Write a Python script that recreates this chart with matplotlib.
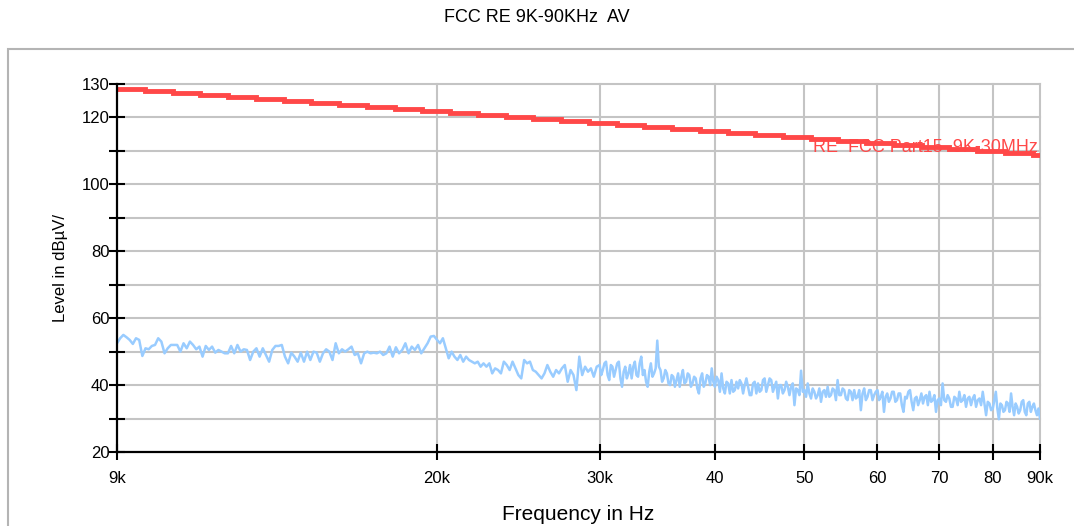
import matplotlib.pyplot as plt
import numpy as np
from matplotlib.patches import Rectangle

plt.rcParams['font.family'] = ['Liberation Sans', 'DejaVu Sans']

# limit line: FCC Part15 9K-30MHz, stepped (kHz edges, dBuV levels)
limit_edges = [9.0, 9.65, 10.34, 11.08, 11.88, 12.73, 13.64, 14.62, 15.67, 16.79,
               17.99, 19.28, 20.66, 22.14, 23.73, 25.43, 27.25, 29.20, 31.30, 33.54,
               35.94, 38.52, 41.28, 44.24, 47.41, 50.80, 54.44, 58.34, 62.53, 67.01,
               71.81, 76.96, 82.47, 88.38, 90.0]
limit_levels = [128.5, 127.9, 127.3, 126.7, 126.1, 125.5, 124.9, 124.3, 123.7, 123.1,
                122.5, 121.9, 121.3, 120.7, 120.1, 119.5, 118.9, 118.3, 117.7, 117.1,
                116.5, 115.9, 115.3, 114.7, 114.1, 113.5, 112.9, 112.3, 111.7, 111.1,
                110.5, 109.9, 109.3, 108.7]

# measured AV trace, read per frequency band (kHz band edges)
av_9k_20k = [52.5, 54.0, 55.0, 54.3, 53.5, 52.3, 54.0, 53.5, 48.7, 51.0,
             50.7, 51.7, 52.0, 54.0, 53.0, 49.5, 51.0, 52.0, 52.0, 52.0,
             50.0, 52.5, 51.0, 53.0, 52.0, 50.7, 51.5, 48.5, 51.7, 50.5,
             51.5, 49.7, 50.5, 50.0, 49.5, 49.5, 51.7, 49.5, 52.0, 50.0,
             50.7, 50.5, 47.5, 50.0, 51.0, 48.5, 51.0, 49.0, 47.0, 50.5,
             51.7, 51.7, 52.0, 48.5, 46.5, 49.7, 48.5, 47.0, 49.7, 47.0,
             50.0, 47.5, 50.0, 49.7, 47.0, 49.5, 50.7, 50.0, 47.5, 52.5,
             49.5, 50.7, 50.0, 50.7, 51.5, 49.0, 49.5, 46.5, 49.5, 50.0,
             49.5, 49.7, 49.5, 50.0, 49.0, 49.5, 51.5, 48.5, 51.3, 49.5,
             50.5, 52.5, 49.5, 51.5, 50.5, 52.0, 49.5, 51.0, 52.5, 54.5,
             54.7]
av_20k_30k = [53.5, 52.5, 54.0, 51.0, 48.0, 50.0, 48.5, 47.5, 49.0, 47.0,
              48.5, 47.5, 47.0, 46.5, 47.0, 45.5, 46.5, 45.5, 46.5, 43.5,
              45.0, 44.5, 43.5, 47.0, 46.0, 44.5, 47.0, 45.0, 43.0, 42.0,
              47.5, 46.5, 47.0, 44.5, 44.0, 43.0, 42.0, 43.5, 46.0, 44.0,
              42.5, 44.5, 43.5, 45.0, 46.0, 41.0, 44.5, 43.0, 38.5, 48.5,
              43.0, 45.5, 44.0, 45.0, 42.5, 45.5]
av_30k_40k = [46.0, 43.0, 44.5, 46.5, 47.0, 43.0, 41.5, 46.0, 45.5, 42.5,
              44.5, 46.5, 47.0, 42.0, 39.5, 44.0, 45.5, 42.0, 43.5, 46.0,
              42.0, 45.5, 47.0, 43.0, 42.5, 46.5, 48.5, 43.0, 44.5, 41.0,
              39.5, 44.0, 46.5, 42.5, 43.5, 45.0, 53.3, 45.5, 44.5, 41.0,
              42.0, 44.5, 43.5, 40.5, 40.0, 43.0, 42.5, 39.5, 41.5, 43.5,
              39.5, 42.5, 44.5, 40.5, 41.0, 43.5, 43.0, 39.5, 40.5, 42.5,
              42.0, 39.0, 37.5, 42.0, 43.5, 39.5, 40.5, 43.0, 42.5, 40.0,
              45.0, 41.0]
av_40k_50k = [39.5, 42.5, 41.5, 38.0, 43.5, 39.0, 37.5, 41.0, 40.5, 37.5,
              41.5, 38.0, 38.5, 41.0, 39.0, 41.5, 40.5, 37.5, 40.0, 42.0,
              39.5, 37.0, 37.0, 40.5, 41.0, 37.5, 40.5, 38.0, 38.5, 41.5,
              42.0, 38.0, 40.0, 42.0, 41.5, 38.0, 39.5, 41.0, 36.0, 40.0,
              40.0, 37.5, 38.5, 41.0, 39.5, 37.0, 39.5, 40.5, 34.0, 39.0,
              38.5, 37.0, 44.3, 38.0]
av_50k_60k = [38.5, 36.5, 40.5, 37.5, 36.0, 39.0, 38.0, 36.0, 37.0, 39.0,
              35.0, 38.0, 38.5, 36.5, 39.5, 36.5, 37.0, 39.0, 38.5, 35.5,
              41.5, 37.0, 37.0, 39.0, 38.5, 36.0, 35.5, 38.5, 38.0, 35.5,
              38.5, 36.0, 36.5, 38.5, 32.5, 37.5, 39.0, 35.5, 36.5, 38.5,
              38.5, 35.5, 37.0, 38.0]
av_60k_70k = [38.5, 35.5, 36.5, 38.0, 32.0, 36.5, 37.5, 35.0, 36.0, 38.0,
              38.0, 35.0, 35.5, 37.5, 37.5, 34.0, 32.0, 36.5, 36.0, 38.0,
              38.5, 35.0, 32.5, 36.0, 36.5, 34.0, 35.5, 37.5, 34.5, 36.5,
              37.0, 34.0, 38.0, 35.0, 35.5, 37.0, 32.0, 35.5]
av_70k_80k = [36.0, 34.0, 40.5, 35.5, 35.0, 37.0, 36.0, 33.5, 33.5, 36.5,
              36.0, 34.0, 38.0, 35.0, 35.5, 37.0, 33.5, 36.0, 36.5, 34.0,
              36.0, 37.0, 33.5, 35.5, 36.0, 34.0, 38.0, 34.5, 31.0, 35.0,
              34.5, 32.5]
av_80k_90k = [33.0, 35.5, 38.0, 33.0, 29.8, 34.5, 34.0, 32.0, 32.5, 35.0,
              34.5, 32.0, 37.5, 33.5, 31.0, 34.5, 33.5, 31.5, 32.5, 35.0,
              35.5, 32.0, 31.0, 34.5, 35.0, 32.0, 33.5, 34.5, 32.5, 31.0,
              33.0, 30.0]
av_bands = [(9, 20, av_9k_20k), (20, 30, av_20k_30k), (30, 40, av_30k_40k),
            (40, 50, av_40k_50k), (50, 60, av_50k_60k), (60, 70, av_60k_70k),
            (70, 80, av_70k_80k), (80, 90, av_80k_90k)]

xticks = [9, 20, 30, 40, 50, 60, 70, 80, 90]
xticklabels = ["9k", "20k", "30k", "40", "50", "60", "70", "80", "90k"]
yticks = [20, 30, 40, 50, 60, 70, 80, 90, 100, 110, 120, 130]
yticklabels = ["20", "", "40", "", "60", "", "80", "", "100", "", "120", "130"]

av_freq = []
av_level = []
for i, (f0, f1, vals) in enumerate(av_bands):
    last = i == len(av_bands) - 1
    f = np.geomspace(f0, f1, len(vals) if last else len(vals) + 1)
    if not last:
        f = f[:-1]
    av_freq.extend(f * 1000)
    av_level.extend(vals)

fig = plt.figure(figsize=(10.74, 5.26), dpi=100)
ax = fig.add_axes([117 / 1074, 1 - 452 / 526, 923 / 1074, 368 / 526])

# outer frame
fig.patches.append(Rectangle((8 / 1074, -0.1), 1.2, 1 - 49 / 526 + 0.1,
                             transform=fig.transFigure, fill=False,
                             ec="#b4b4b4", lw=1.5))

ax.set_xscale("log")
ax.plot(av_freq, av_level, color="#99ccff", lw=1.8, zorder=3)
ax.stairs(limit_levels, np.array(limit_edges) * 1000, color="#ff4848", lw=3.5,
          baseline=None, zorder=4)
ax.text(89600, 109.6, "RE  FCC Part15  9K-30MHz", color="#ff4848", fontsize=13,
        ha="right", va="baseline", zorder=5)

ax.set_xlim(9000, 90000)
ax.set_ylim(20, 130)
ax.set_xticks([x * 1000 for x in xticks])
ax.set_xticklabels(xticklabels)
ax.xaxis.set_minor_locator(plt.NullLocator())
ax.set_yticks(yticks)
ax.set_yticklabels(yticklabels)

for v in yticks[1:]:
    ax.axhline(v, color="#c4c4c4", lw=1.5, zorder=1, clip_on=False)
for v in xticks[1:]:
    ax.axvline(v * 1000, color="#c4c4c4", lw=1.5, zorder=1, clip_on=False)

for s in ["top", "right"]:
    ax.spines[s].set_visible(False)
for s in ["left", "bottom"]:
    ax.spines[s].set_linewidth(1.6)
    ax.spines[s].set_zorder(6)
ax.tick_params(direction="inout", length=11, width=1.5, labelsize=12)
ax.tick_params(axis="x", pad=8)
ax.tick_params(axis="y", pad=0)

ax.set_xlabel("Frequency in Hz", fontsize=15, labelpad=14)
ax.set_ylabel("Level in dBµV/", fontsize=12, labelpad=10)
fig.text(0.5, 1 - 18 / 526, "FCC RE 9K-90KHz  AV", ha="center", va="center",
         fontsize=13)

fig.savefig("out.png", dpi=100)
